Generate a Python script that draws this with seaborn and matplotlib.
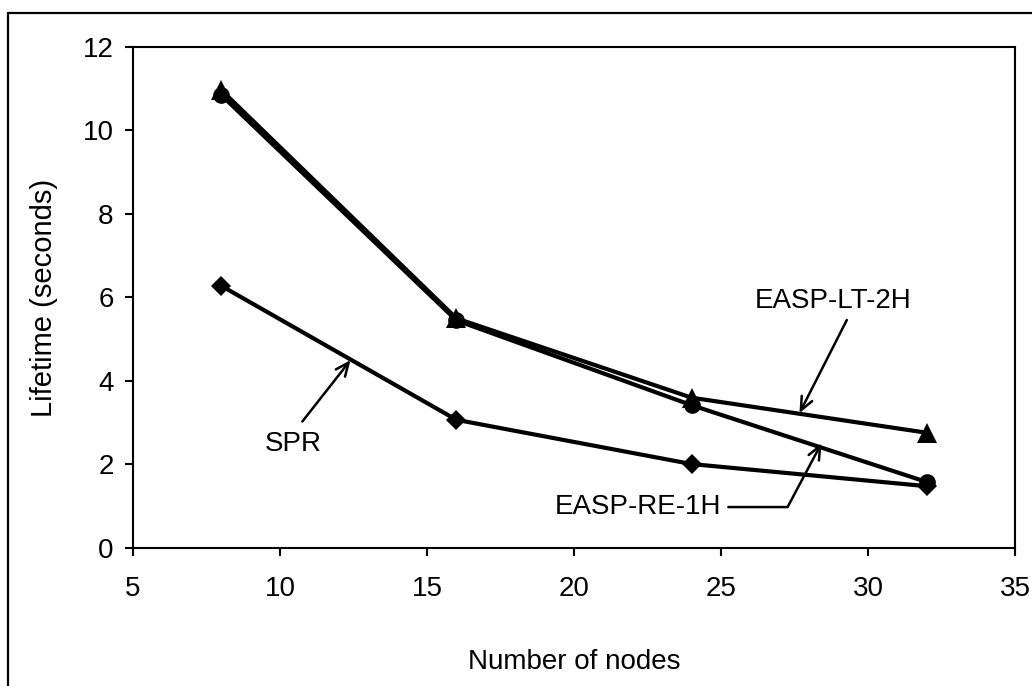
import matplotlib
matplotlib.use("Agg")
import matplotlib.pyplot as plt
from matplotlib.lines import Line2D
import seaborn as sns
import pandas as pd

nodes = [8, 16, 24, 32]
spr = [6.28, 3.07, 2.01, 1.48]
easp_lt_2h = [10.97, 5.50, 3.60, 2.76]
easp_re_1h = [10.85, 5.45, 3.42, 1.58]

x_ticks = [5, 10, 15, 20, 25, 30, 35]
y_ticks = [0, 2, 4, 6, 8, 10, 12]

sns.set_theme(style="white")
plt.rcParams["font.family"] = ["Liberation Sans", "DejaVu Sans"]

fig = plt.figure(figsize=(10.32, 6.86), dpi=100)
ax = fig.add_axes([0.1289, 0.2012, 0.8546, 0.7303])

df_spr = pd.DataFrame({"nodes": nodes, "lifetime": spr})
df_lt = pd.DataFrame({"nodes": nodes, "lifetime": easp_lt_2h})
df_re = pd.DataFrame({"nodes": nodes, "lifetime": easp_re_1h})

sns.lineplot(data=df_spr, x="nodes", y="lifetime", ax=ax, color="black",
             linewidth=3, marker="D", markersize=10, markeredgewidth=0)
sns.lineplot(data=df_re, x="nodes", y="lifetime", ax=ax, color="black",
             linewidth=3, marker="o", markersize=12, markeredgewidth=0)
sns.lineplot(data=df_lt, x="nodes", y="lifetime", ax=ax, color="black",
             linewidth=3, marker="^", markersize=15, markeredgewidth=0)

ax.set_xlim(5, 35)
ax.set_ylim(0, 12)
ax.set_xticks(x_ticks)
ax.set_yticks(y_ticks)
ax.set_xticklabels([str(v) for v in x_ticks])
ax.set_yticklabels([str(v) for v in y_ticks])

for s in ax.spines.values():
    s.set_color("black")
    s.set_linewidth(1.5)
    s.set_visible(True)

ax.tick_params(axis="both", which="both", direction="out", length=6, width=1.5,
               colors="black", labelsize=20, left=True, bottom=True)
ax.tick_params(axis="y", pad=8)
ax.tick_params(axis="x", pad=14)

ax.set_xlabel("Number of nodes", fontsize=20, color="black", labelpad=34)
ax.set_ylabel("Lifetime (seconds)", fontsize=21, color="black", labelpad=18)
ax.grid(False)

arrow_kw = dict(arrowstyle="->,head_length=0.8,head_width=0.35", color="black",
                lw=1.8, shrinkA=0, shrinkB=0)

ax.annotate("", xy=(12.40, 4.50), xytext=(10.76, 3.03), arrowprops=arrow_kw)
ax.text(10.45, 2.49, "SPR", fontsize=20, ha="center", va="center", color="black")

ax.annotate("", xy=(27.67, 3.23), xytext=(29.28, 5.46), arrowprops=arrow_kw)
ax.text(28.80, 5.92, "EASP-LT-2H", fontsize=20, ha="center", va="center", color="black")

re_kw = dict(arrow_kw)
re_kw["connectionstyle"] = "angle,angleA=0,angleB=62,rad=0"
ax.annotate("", xy=(28.42, 2.51), xytext=(25.25, 0.98), arrowprops=re_kw)
ax.text(25.0, 0.98, "EASP-RE-1H", fontsize=20, ha="right", va="center", color="black")

# figure frame (top and left edges visible)
fig.add_artist(Line2D([0.0078, 0.0078], [0.0, 0.981], transform=fig.transFigure,
                      color="black", lw=1.6))
fig.add_artist(Line2D([0.0078, 1.0], [0.981, 0.981], transform=fig.transFigure,
                      color="black", lw=1.6))

fig.savefig("out.png", dpi=100)
